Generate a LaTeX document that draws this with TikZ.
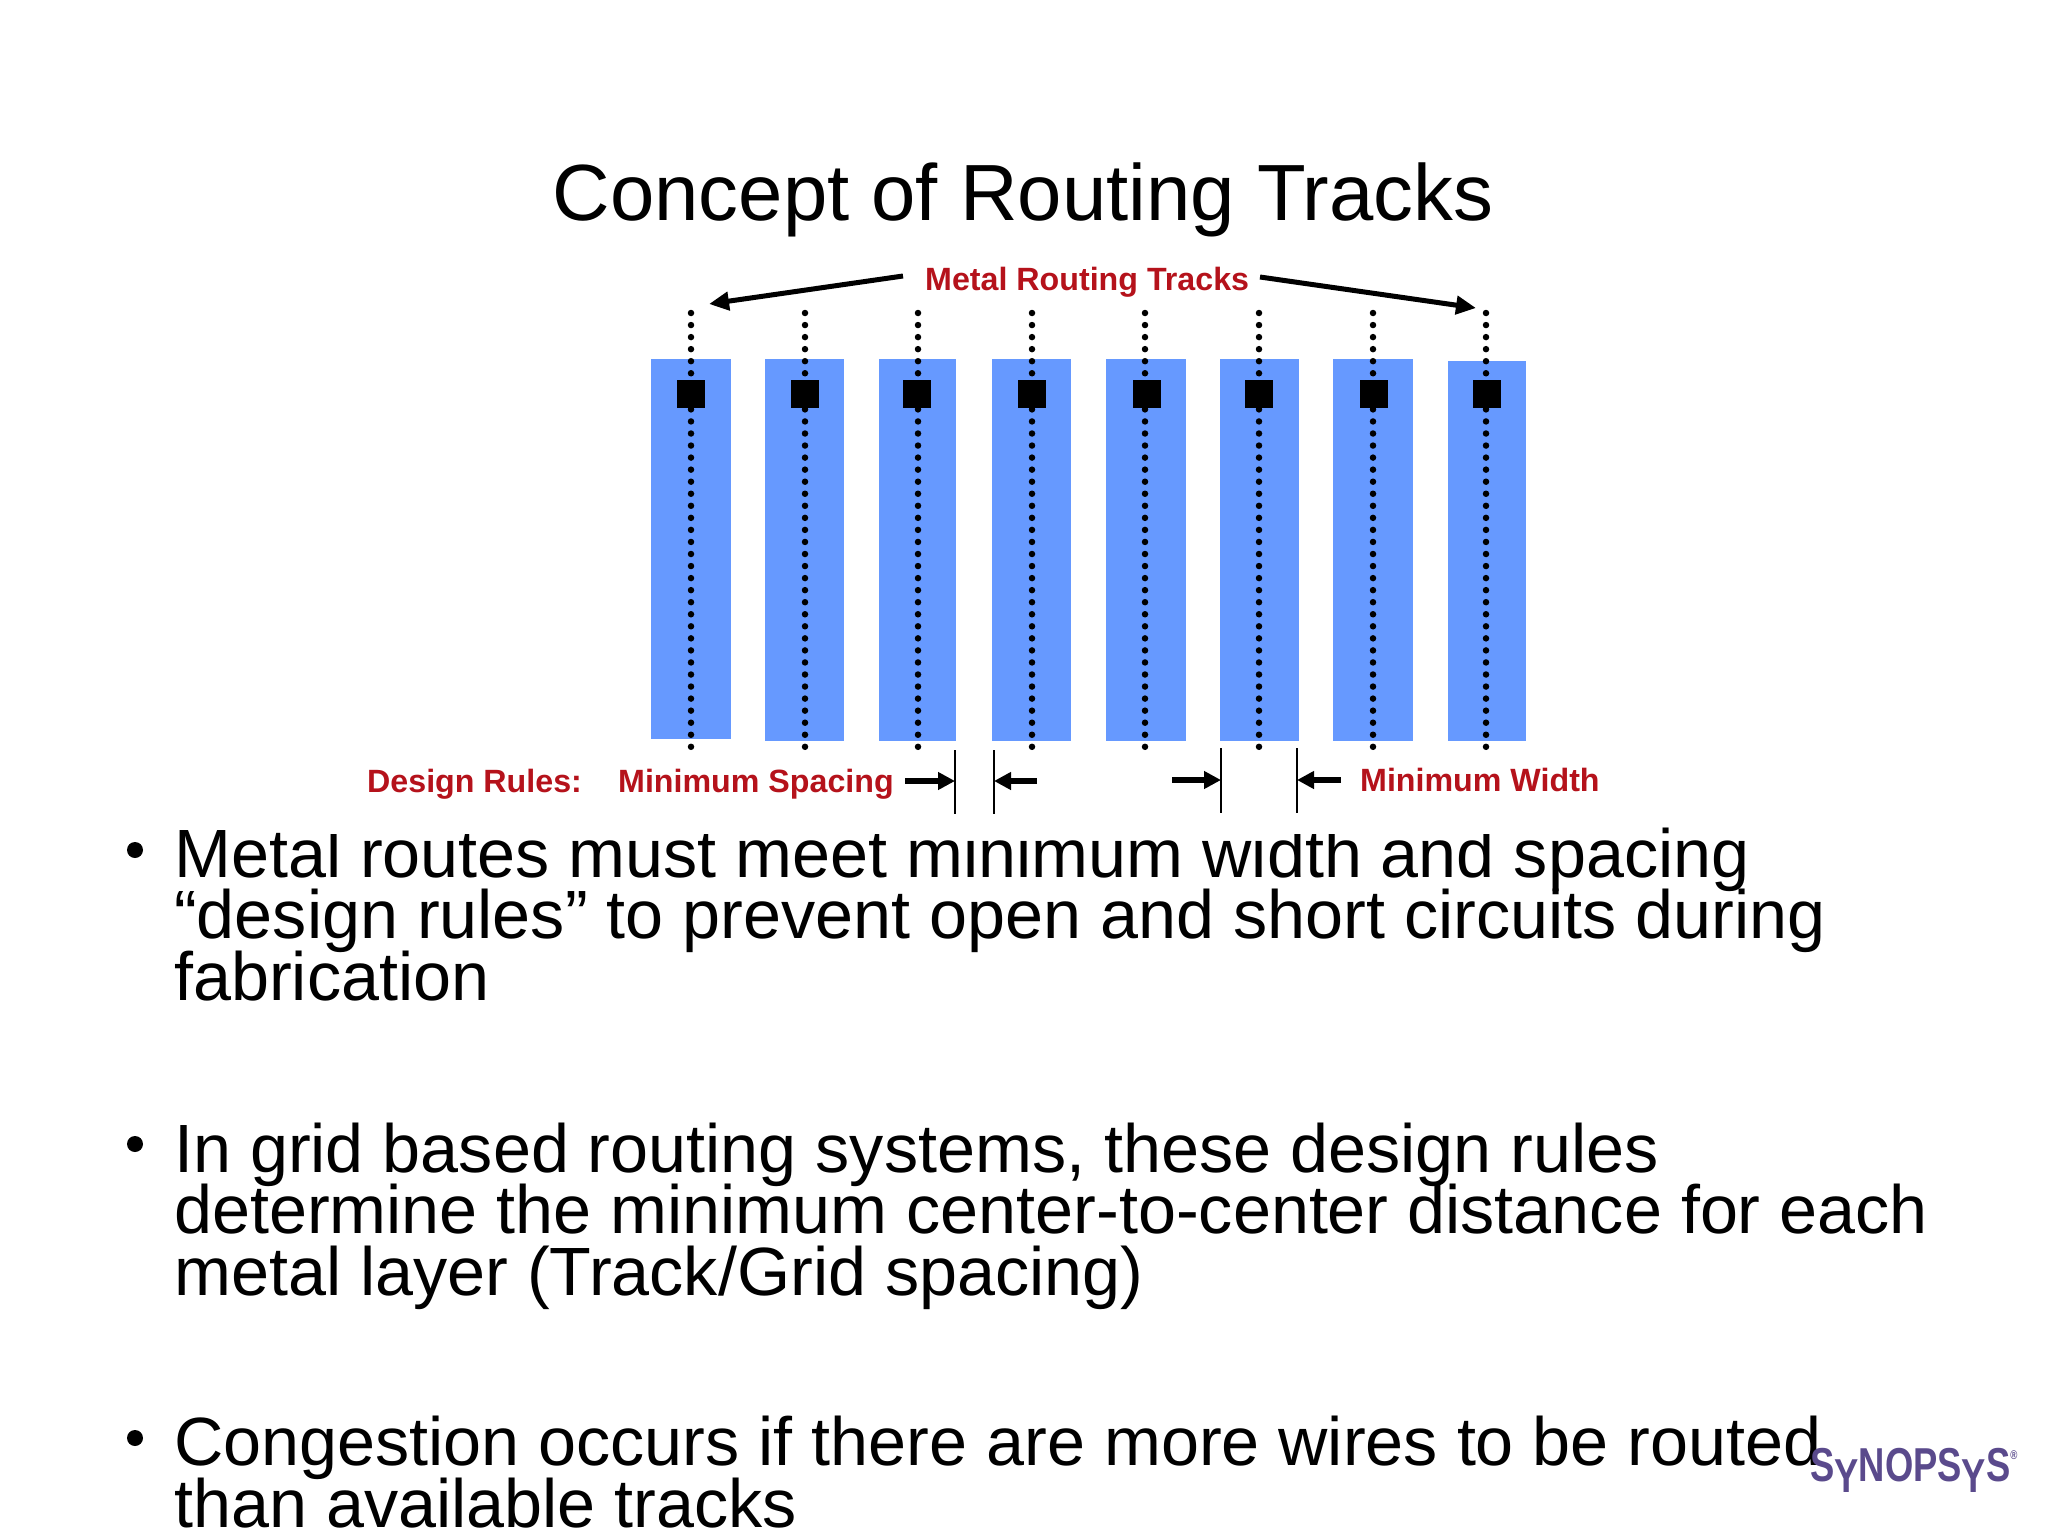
\documentclass[tikz,border=0pt]{standalone}
\usepackage{fontspec}
\setmainfont{Liberation Sans}
\usetikzlibrary{arrows.meta}
\definecolor{metalblue}{HTML}{6699FF}
\definecolor{rulered}{HTML}{B5121B}
\definecolor{logopurple}{HTML}{5A4A8C}
\newcommand{\bodyfont}{\fontsize{68.3}{61.5}\selectfont\setlength{\lineskiplimit}{-100pt}}

\begin{document}
\begin{tikzpicture}[
    x=1pt, y=-1pt,
    slidetitle/.style={anchor=base, inner sep=0pt, font=\fontsize{79.7}{80}\selectfont},
    bodytext/.style={anchor=base west, inner sep=0pt, align=left, font=\bodyfont},
    bulletmark/.style={circle, fill=black, inner sep=0pt, minimum size=16pt},
    rulelabel/.style={anchor=base west, inner sep=0pt, text=rulered, font=\fontsize{32.2}{32}\selectfont\bfseries},
    metal/.style={fill=metalblue},
    via/.style={fill=black, inner sep=0pt, minimum size=28pt},
    trackdots/.style={line width=6.5pt, line cap=round, dash pattern=on 0pt off 12.05pt},
    bigarrow/.style={line width=5pt, -{Triangle[length=20pt,width=18pt]}},
    smallarrow/.style={line width=5.5pt, -{Triangle[length=17pt,width=17pt]}},
    ruletick/.style={line width=2.2pt}
  ]
    \useasboundingbox[fill=white] (0,0) rectangle (2048,1536);

    % Bullet text
    \node[bulletmark] (bulletone) at (135,850) {};
    \node[bodytext] (bodyone) at (174,1000) {Metal routes must meet minimum width and spacing\\``design rules'' to prevent open and short circuits during\\fabrication};
    \node[bulletmark] (bullettwo) at (135,1144) {};
    \node[bodytext] (bodytwo) at (174,1295) {In grid based routing systems, these design rules\\determine the minimum center-to-center distance for each\\metal layer (Track/Grid spacing)};
    \node[bulletmark] (bulletthree) at (135,1438) {};
    \node[bodytext] (bodythree) at (174,1527) {Congestion occurs if there are more wires to be routed\\than available tracks};

    % Picture covers top of first line
    \fill[white] (310,240) rectangle (1640,834);

    \node[slidetitle] (title) at (1023,220) {Concept of Routing Tracks};

    % Metal bars
    \foreach \xa/\xb/\ya/\yb in {651/731/359/739, 765/844/359/741, 879/956/359/741, 992/1071/359/741, 1106/1186/359/741, 1220/1299/359/741, 1333/1413/359/741, 1448/1526/361/741}
      \fill[metal] (\xa,\ya) rectangle (\xb,\yb);

    % Tracks and vias
    \foreach \i/\x/\v in {1/691/691, 2/805/805, 3/918/917, 4/1032/1032, 5/1145/1147, 6/1259/1259, 7/1373/1374, 8/1486/1487} {
      \coordinate (tracktop\i) at (\x,313);
      \coordinate (trackbot\i) at (\x,747);
      \draw[trackdots] (tracktop\i) -- (trackbot\i);
      \node[via] (via\i) at (\v,394) {};
    }

    % Labels
    \node[rulelabel] (tracks) at (925,290) {Metal Routing Tracks};
    \node[rulelabel] (design) at (367,792) {Design Rules:};
    \node[rulelabel] (spacing) at (618,792) {Minimum Spacing};
    \node[rulelabel] (width) at (1360,791) {Minimum Width};

    \coordinate (leftstart) at (903,276);
    \coordinate (leftend) at (709,304);
    \coordinate (rightstart) at (1260,277);
    \coordinate (rightend) at (1476,308);
    \draw[bigarrow] (leftstart) -- (leftend);
    \draw[bigarrow] (rightstart) -- (rightend);

    % Rule ticks
    \foreach \x/\ya/\yb in {955/750/814, 994/750/814, 1221/748/813, 1297/748/813}
      \draw[ruletick] (\x,\ya) -- (\x,\yb);
    \coordinate (spacingleft) at (905,781);
    \coordinate (spacingtickleft) at (955,781);
    \coordinate (spacingright) at (1037,781);
    \coordinate (spacingtickright) at (994,781);
    \coordinate (widthleft) at (1172,780);
    \coordinate (widthtickleft) at (1221,780);
    \coordinate (widthright) at (1341,780);
    \coordinate (widthtickright) at (1297,780);
    \draw[smallarrow] (spacingleft) -- (spacingtickleft);
    \draw[smallarrow] (spacingright) -- (spacingtickright);
    \draw[smallarrow] (widthleft) -- (widthtickleft);
    \draw[smallarrow] (widthright) -- (widthtickright);

    % Logo
    \node[anchor=base west, inner sep=0pt, text=logopurple, xscale=1.07, yscale=1.4, font=\fontsize{34}{34}\selectfont\bfseries] (logo) at (1810,1481) {S\raisebox{-.25em}{Y}NOPS\raisebox{-.25em}{Y}S\raisebox{.45em}{\fontsize{9}{9}\selectfont ®}};
\end{tikzpicture}
\end{document}
